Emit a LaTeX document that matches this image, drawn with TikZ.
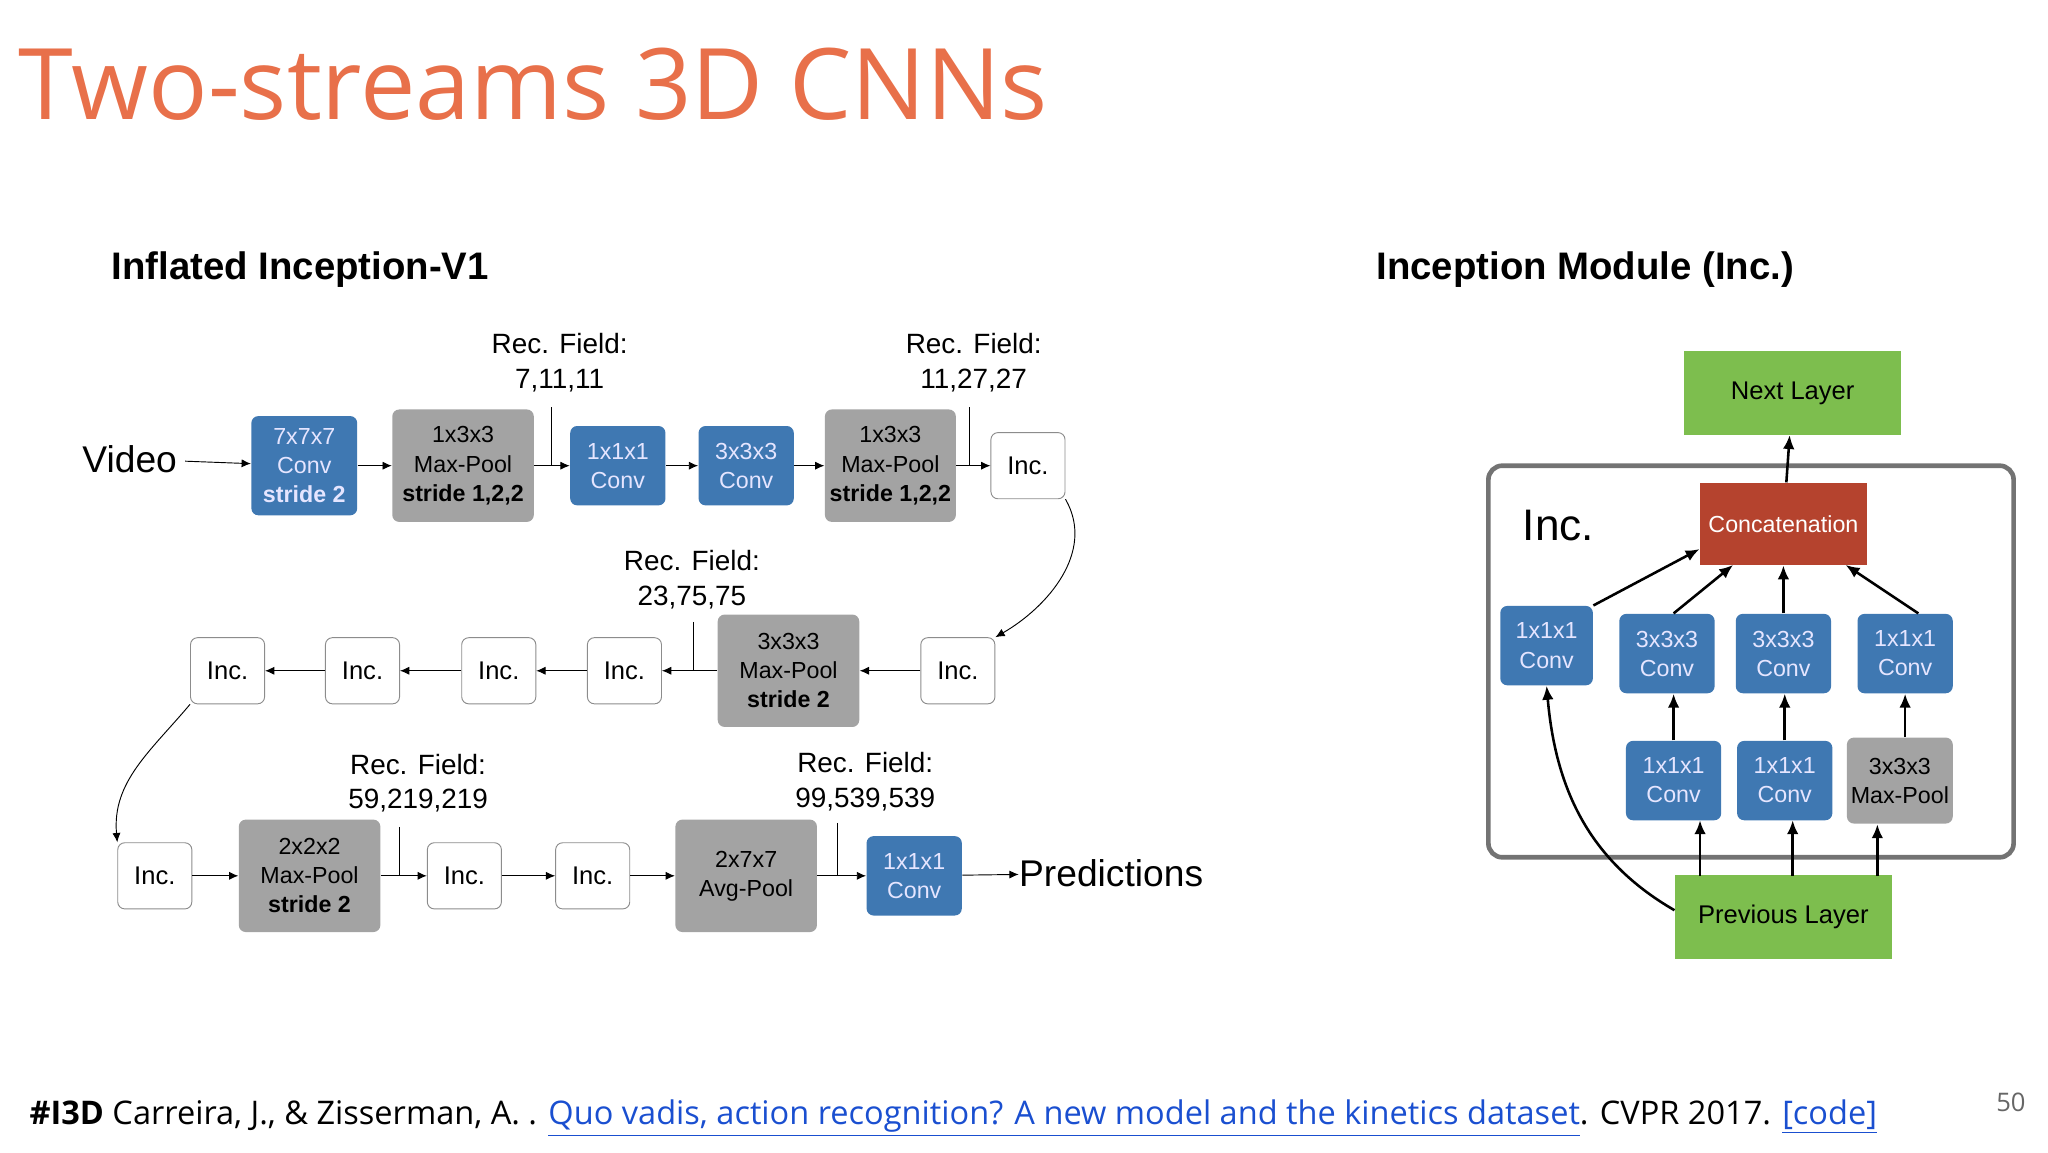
\documentclass[tikz,border=0pt]{standalone}
\usepackage{fontspec}
\setmainfont{Liberation Sans}
\newfontfamily\slidefont{Open Sans}
\usetikzlibrary{arrows.meta,positioning,calc}
\definecolor{titleorange}{HTML}{E8704A}
\definecolor{convblue}{HTML}{3F78B2}
\definecolor{poolgray}{HTML}{A3A3A3}
\definecolor{layergreen}{HTML}{7DBE4E}
\definecolor{concatred}{HTML}{B5432E}
\definecolor{linkblue}{HTML}{1A4FD0}
\begin{document}
\begin{tikzpicture}[x=0.02cm,y=-0.02cm,
    box/.style={rounded corners=3pt, align=center, inner sep=0pt,
                font=\fontsize{10}{12.5}\selectfont},
    Conv/.style={box, fill=convblue, text=white!90!blue, minimum width=72*0.02cm, minimum height=60*0.02cm},
    Pool/.style={box, fill=poolgray, minimum width=107*0.02cm, minimum height=85*0.02cm},
    Inc/.style={box, draw=black!45, fill=white, minimum width=56*0.02cm, minimum height=50*0.02cm,
                font=\fontsize{11}{13}\selectfont},
    Layer/.style={box, fill=layergreen, minimum width=164*0.02cm, minimum height=63*0.02cm,
                  rounded corners=0pt, font=\fontsize{11}{13}\selectfont},
    rec/.style={align=center, font=\fontsize{12}{15}\selectfont},
    arrow/.style={-{Latex[length=4pt,width=3.5pt]}, thin},
    arrow_big/.style={-{Latex[length=6pt,width=5pt]}, line width=1.1pt}
    ]
    \useasboundingbox (0,0) rectangle (1548,871);
    % title and headings
    \node[anchor=base west, inner sep=0, text=titleorange, font=\slidefont\fontsize{42.5}{48}\selectfont] (title) at (14,90) {Two-streams 3D CNNs};
    \node[anchor=base west, inner sep=0, font=\bfseries\fontsize{16.5}{20}\selectfont] (head_l) at (84,211) {Inflated Inception-V1};
    \node[anchor=base west, inner sep=0, font=\bfseries\fontsize{16.5}{20}\selectfont] (head_r) at (1040,211) {Inception Module (Inc.)};

    % row 1
    \node[anchor=center, font=\fontsize{16}{20}\selectfont] (video) at (98,347) {Video};
    \node[Conv, minimum width=80*0.02cm, minimum height=75*0.02cm] (c7) at (230,352) {7x7x7\\Conv\\\textbf{stride 2}};
    \node[Pool] (mp1) at (350,352) {1x3x3\\Max-Pool\\\textbf{stride 1,2,2}};
    \node[Conv] (c1) at (467,352) {1x1x1\\Conv};
    \node[Conv] (c3) at (564,352) {3x3x3\\Conv};
    \node[Pool, minimum width=99*0.02cm] (mp2) at (673,352) {1x3x3\\Max-Pool\\\textbf{stride 1,2,2}};
    \node[Inc] (inc1) at (777,352) {Inc.};
    \draw[arrow] (video) -- (c7);
    \draw[arrow] (c7) -- (mp1);
    \draw[arrow] (mp1) -- (c1);
    \draw[arrow] (c1) -- (c3);
    \draw[arrow] (c3) -- (mp2);
    \draw[arrow] (mp2) -- (inc1);
    \node[rec] (rf1) at (423,274) {Rec. Field:\\7,11,11};
    \node[rec] (rf2) at (736,274) {Rec. Field:\\11,27,27};
    \draw (417,308) -- (417,352);
    \draw (733,308) -- (733,352);

    % row 2
    \node[Inc] (inc2) at (724,507) {Inc.};
    \node[Pool] (mp3) at (596,507) {3x3x3\\Max-Pool\\\textbf{stride 2}};
    \node[Inc] (inc3) at (472,507) {Inc.};
    \node[Inc] (inc4) at (377,507) {Inc.};
    \node[Inc] (inc5) at (274,507) {Inc.};
    \node[Inc] (inc6) at (172,507) {Inc.};
    \draw[arrow] (inc1.south east) to[out=-60,in=30] (inc2.north east);
    \draw[arrow] (inc2) -- (mp3);
    \draw[arrow] (mp3) -- (inc3);
    \draw[arrow] (inc3) -- (inc4);
    \draw[arrow] (inc4) -- (inc5);
    \draw[arrow] (inc5) -- (inc6);
    \node[rec] (rf3) at (523,438) {Rec. Field:\\23,75,75};
    \draw (524,470) -- (524,507);

    % row 3
    \node[Inc] (inc7) at (117,662) {Inc.};
    \node[Pool] (mp4) at (234,662) {2x2x2\\Max-Pool\\\textbf{stride 2}};
    \node[Inc] (inc8) at (351,662) {Inc.};
    \node[Inc] (inc9) at (448,662) {Inc.};
    \node[Pool] (avg) at (564,662) {2x7x7\\Avg-Pool};
    \node[Conv] (c1b) at (691,662) {1x1x1\\Conv};
    \node[anchor=west, font=\fontsize{16}{20}\selectfont, inner sep=0] (pred) at (770,660) {Predictions};
    \draw[arrow] (inc6.south west) to[out=-130,in=95] (inc7.north west);
    \draw[arrow] (inc7) -- (mp4);
    \draw[arrow] (mp4) -- (inc8);
    \draw[arrow] (inc8) -- (inc9);
    \draw[arrow] (inc9) -- (avg);
    \draw[arrow] (avg) -- (c1b);
    \draw[arrow] (c1b) -- (pred);
    \node[rec] (rf4) at (316,592) {Rec. Field:\\59,219,219};
    \node[rec] (rf5) at (654,591) {Rec. Field:\\99,539,539};
    \draw (302,625) -- (302,662);
    \draw (633,622) -- (633,662);

    % inception module
    \draw[black!55, line width=2pt, rounded corners=6pt] (1125,352) rectangle (1522,648);
    \node[font=\fontsize{19}{23}\selectfont] (inc_lbl) at (1178,397) {Inc.};
    \node[Layer] (next) at (1355,297) {Next Layer};
    \node[box, fill=concatred, text=white, minimum width=126*0.02cm, minimum height=62*0.02cm,
          rounded corners=0pt, font=\fontsize{10}{12}\selectfont] (concat) at (1348,396) {Concatenation};
    \node[Conv, minimum width=70*0.02cm] (b1) at (1169,488) {1x1x1\\Conv};
    \node[Conv] (b2) at (1260,494) {3x3x3\\Conv};
    \node[Conv] (b3) at (1348,494) {3x3x3\\Conv};
    \node[Conv] (b4) at (1440,494) {1x1x1\\Conv};
    \node[Conv] (l1) at (1265,590) {1x1x1\\Conv};
    \node[Conv] (l2) at (1349,590) {1x1x1\\Conv};
    \node[Pool, minimum width=80*0.02cm, minimum height=65*0.02cm] (l3) at (1436,590) {3x3x3\\Max-Pool};
    \node[Layer] (prev) at (1348,693) {Previous Layer};
    \draw[arrow_big] (concat) -- (next);
    \draw[arrow_big] (b1.north east) -- (concat.west |- 0,415);
    \draw[arrow_big] (b2.north) ++(5,0) -- (1310,427);
    \draw[arrow_big] (b3) -- (concat);
    \draw[arrow_big] (b4.north) ++(10,0) -- (1395,427);
    \draw[arrow_big] (l1) -- (b2.south -| l1);
    \draw[arrow_big] (l2) -- (b3.south -| l2);
    \draw[arrow_big] (l3.north -| b4) -- (b4);
    \draw[arrow_big] (1285,662) -- (1285,620);
    \draw[arrow_big] (1355,662) -- (1355,620);
    \draw[arrow_big] (1419,662) -- (1419,623);
    \draw[arrow_big] (prev.west) ++(0,-5) to[out=150,in=-85] (b1.south);

    % footer
    \node[anchor=base west, inner sep=0, font=\slidefont\fontsize{14}{17}\selectfont] (ref) at (22,850)
      {\textbf{\#I3D} Carreira, J., \& Zisserman, A. . {\color{linkblue}\underline{Quo vadis, action recognition? A new model and the kinetics dataset}}. CVPR 2017. {\color{linkblue}\underline{[code]}}};
    \node[anchor=base, text=black!60, font=\slidefont\fontsize{11}{13}\selectfont] (page) at (1520,840) {50};
\end{tikzpicture}
\end{document}
